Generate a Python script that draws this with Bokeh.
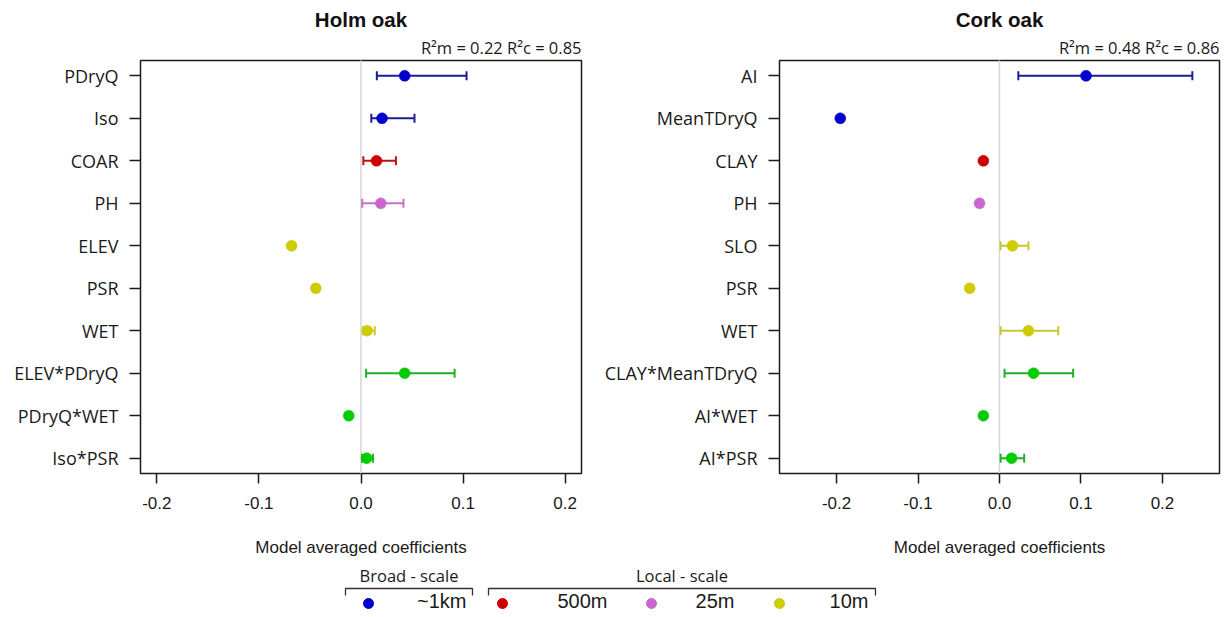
import numpy as np
from bokeh.plotting import figure
from bokeh.models import (Range1d, FixedTicker, PrintfTickFormatter, Title)
from bokeh.layouts import row, column
from bokeh.embed import file_html
from bokeh.resources import INLINE
from bokeh.core.properties import value

# ---------------- data ----------------
holm_vars = ["PDryQ", "Iso", "COAR", "PH", "ELEV", "PSR", "WET",
             "ELEV*PDryQ", "PDryQ*WET", "Iso*PSR"]
holm_scale = ["1km", "1km", "500m", "25m", "10m", "10m", "10m",
              "inter", "inter", "inter"]
holm_coef = [0.0428, 0.0206, 0.0152, 0.0194, -0.068, -0.0443, 0.006,
             0.0428, -0.012, 0.0055]
holm_lo = [0.0155, 0.0101, 0.0023, 0.0012, None, None, 0.002,
           0.005, None, 0.001]
holm_hi = [0.1034, 0.0524, 0.0342, 0.0416, None, None, 0.0135,
           0.0917, None, 0.0117]
holm_r2 = "R\u00b2m = 0.22 R\u00b2c = 0.85"

cork_vars = ["AI", "MeanTDryQ", "CLAY", "PH", "SLO", "PSR", "WET",
             "CLAY*MeanTDryQ", "AI*WET", "AI*PSR"]
cork_scale = ["1km", "1km", "500m", "25m", "10m", "10m", "10m",
              "inter", "inter", "inter"]
cork_coef = [0.1062, -0.1954, -0.0198, -0.0245, 0.0159, -0.0366, 0.0355,
             0.0418, -0.0198, 0.0149]
cork_lo = [0.0231, None, None, None, 0.0014, None, 0.0014,
           0.0062, None, 0.0014]
cork_hi = [0.2367, None, None, None, 0.0355, None, 0.0721,
           0.0904, None, 0.0303]
cork_r2 = "R\u00b2m = 0.48 R\u00b2c = 0.86"

x_ticks = [-0.2, -0.1, 0.0, 0.1, 0.2]
x_label = "Model averaged coefficients"

point_colors = {"1km": "#0000CD", "500m": "#CC0000", "25m": "#CC66CC",
                "10m": "#CCCC00", "inter": "#00CC00"}
bar_colors = {"1km": "#1C1C96", "500m": "#B81414", "25m": "#C870C8",
              "10m": "#C8C832", "inter": "#22B022"}

legend_groups = ["Broad - scale", "Local - scale"]
legend_labels = ["~1km", "500m", "25m", "10m"]
legend_keys = ["1km", "500m", "25m", "10m"]

# ---------------- styling / layout ----------------
SANS = "Liberation Sans"
LBL = "Open Sans"
TOP, FRAME_H, FIG_H = 60, 413, 562


def make_panel(title, r2, names, scales, coef, lo, hi, xlim, width,
               bl, br, frame_w):
    n = len(names)
    ypos = [n - 1 - i for i in range(n)]
    p = figure(width=width, height=FIG_H, output_backend="svg",
               toolbar_location=None, title=None,
               x_range=Range1d(-xlim, xlim),
               y_range=Range1d(-0.36, n - 1 + 0.36),
               min_border_left=bl, min_border_right=br,
               min_border_top=TOP, min_border_bottom=FIG_H - TOP - FRAME_H)
    p.frame_width = frame_w
    p.frame_height = FRAME_H
    p.grid.visible = False
    p.outline_line_color = "#1a1a1a"
    p.outline_line_width = 1.5
    p.background_fill_color = "white"
    p.border_fill_color = "white"

    # zero line
    p.segment(x0=[0], x1=[0], y0=[-1], y1=[n + 1], line_color="#D6D6D6",
              line_width=1.5)

    bx0, bx1, by, bc = [], [], [], []
    for yy, s, l, h in zip(ypos, scales, lo, hi):
        if l is None:
            continue
        bx0.append(l); bx1.append(h); by.append(yy); bc.append(bar_colors[s])
    p.segment(x0=bx0, x1=bx1, y0=by, y1=by, line_color=bc, line_width=2)
    p.scatter(x=bx0 + bx1, y=by + by, marker="dash", size=9,
              angle=np.pi / 2, line_color=bc + bc, line_width=2)
    p.scatter(x=coef, y=ypos, size=11, marker="circle",
              fill_color=[point_colors[s] for s in scales],
              line_color=[point_colors[s] for s in scales], line_width=0.5)

    # axes
    xa = p.xaxis[0]
    xa.ticker = FixedTicker(ticks=x_ticks)
    xa.formatter = PrintfTickFormatter(format="%.1f")
    xa.axis_line_color = None
    xa.major_tick_out = 10
    xa.major_tick_in = 0
    xa.major_tick_line_width = 1.5
    xa.major_tick_line_color = "#1a1a1a"
    xa.minor_tick_line_color = None
    xa.major_label_text_font = SANS
    xa.major_label_text_font_size = "17px"
    xa.major_label_text_color = "#1a1a1a"
    xa.major_label_standoff = 13
    xa.axis_label = x_label
    xa.axis_label_text_font = SANS
    xa.axis_label_text_font_size = "17px"
    xa.axis_label_text_font_style = "normal"
    xa.axis_label_text_color = "#1a1a1a"
    xa.axis_label_standoff = 26

    ya = p.yaxis[0]
    ya.ticker = FixedTicker(ticks=ypos)
    ya.major_label_overrides = {yy: nm for yy, nm in zip(ypos, names)}
    ya.axis_line_color = None
    ya.major_tick_out = 11
    ya.major_tick_in = 0
    ya.major_tick_line_width = 1.5
    ya.major_tick_line_color = "#1a1a1a"
    ya.minor_tick_line_color = None
    ya.major_label_text_font = LBL
    ya.major_label_text_font_size = "18px"
    ya.major_label_text_color = "#1a1a1a"
    ya.major_label_standoff = 11

    p.add_layout(Title(text=r2, align="right", text_font=LBL,
                       text_font_size="16.5px", text_font_style="normal",
                       text_color="#1a1a1a", standoff=3), "above")
    p.add_layout(Title(text=title, align="center", text_font=SANS,
                       text_font_size="20.5px", text_font_style="bold",
                       text_color="#111111", standoff=4), "above")
    return p


p1 = make_panel("Holm oak", holm_r2, holm_vars, holm_scale, holm_coef,
                holm_lo, holm_hi, 0.216, 600, 140, 19, 441)
p2 = make_panel("Cork oak", cork_r2, cork_vars, cork_scale, cork_coef,
                cork_lo, cork_hi, 0.27, 625, 179, 6, 440)

# ---------------- custom legend ----------------
LEG_H = 617 - FIG_H
leg = figure(width=1225, height=LEG_H, output_backend="svg",
             toolbar_location=None, x_range=Range1d(0, 1225),
             y_range=Range1d(617, FIG_H), min_border=0)
leg.axis.visible = False
leg.grid.visible = False
leg.outline_line_color = None
leg.background_fill_color = "white"
leg.border_fill_color = "white"

bracket_x = [(345, 472), (488, 875)]
bracket_top, bracket_bot = 588, 595
leg.multi_line(xs=[[a, a, b, b] for a, b in bracket_x],
               ys=[[bracket_bot, bracket_top, bracket_top, bracket_bot]] * 2,
               line_color="#333333", line_width=1.3)
leg.text(x=[(a + b) / 2 for a, b in bracket_x], y=[575, 575],
         text=legend_groups, text_align="center", text_baseline="middle",
         text_font=value(LBL), text_font_size="16.5px", text_color="#1a1a1a")
dot_x = [368, 502, 651, 779]
lab_x = [466, 607, 734, 868]
leg.scatter(x=dot_x, y=[603] * 4, size=10,
            fill_color=[point_colors[k] for k in legend_keys],
            line_color=[point_colors[k] for k in legend_keys])
leg.text(x=lab_x, y=[600] * 4, text=legend_labels, text_align="right",
         text_baseline="middle", text_font=value(SANS),
         text_font_size="20px", text_color="#1a1a1a")

layout = column(row(p1, p2), leg)
open("out.html", "w").write(file_html(layout, INLINE))
